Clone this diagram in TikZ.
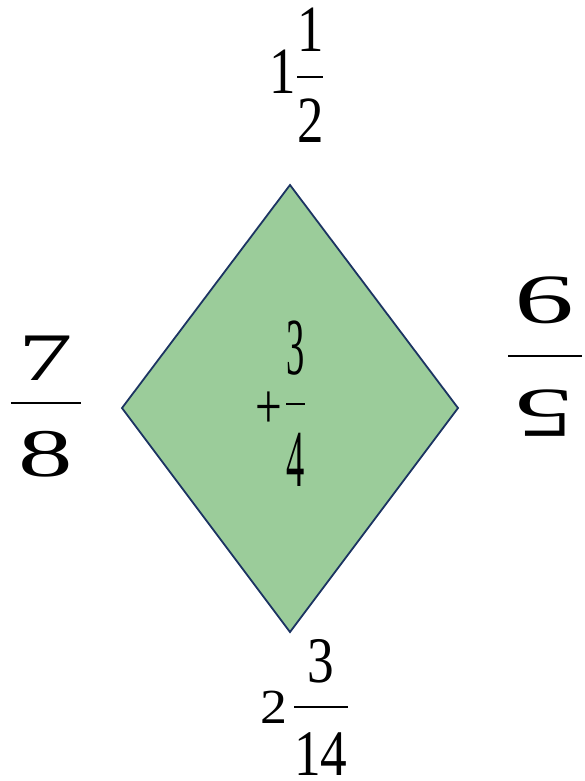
\RequirePackage{fix-cm}
\documentclass[tikz,border=0pt]{standalone}
\usepackage{amsmath}
\usepackage{graphicx}
\usepackage{fontspec}
\setmainfont{Liberation Serif}
\usepackage{tikz}
\usetikzlibrary{positioning}
\usepackage{xcolor}
\definecolor{rhombfill}{RGB}{155,204,154}
\definecolor{rhombline}{RGB}{28,52,98}
\tikzset{fraclabel/.style={inner sep=0pt, outer sep=0pt, anchor=base}}
% fraction with a firm bar; #3 and #4 nudge numerator and denominator
\newcommand{\shiftfrac}[4]{\genfrac{}{}{1.8pt}{0}{\raisebox{#3}{#1}}{\raisebox{#4}[\height][0pt]{#2}}}

\begin{document}
\begin{tikzpicture}[x=1pt,y=-1pt]
  \useasboundingbox (0,0) rectangle (584,781);
  % the green rhombus
  \draw[rhombline, line width=1.8pt, line join=miter, fill=rhombfill]
    (290,185) -- (458,408) -- (290,632) -- (122,408) -- cycle;
  % fractions round it
  \node[fraclabel, font=\fontsize{66}{66}\selectfont] (Ftop) at (297,93.5)
    {\scalebox{0.8}[1]{1$\shiftfrac{1}{2}{-3pt}{-4pt}$}};
  \node[fraclabel, font=\fontsize{68}{68}\selectfont] (Fleft) at (46,420)
    {\scalebox{1.6}[1]{$\shiftfrac{\hspace{5pt}7\hspace{5pt}}{\hspace{5pt}8\hspace{5pt}}{-6pt}{-9.5pt}$}};
  \node[fraclabel, rotate=180, font=\fontsize{70}{70}\selectfont] (Fright) at (545,338.5)
    {\scalebox{1.7}[1]{$\shiftfrac{\hspace{4pt}5\hspace{4pt}}{\hspace{4pt}9\hspace{4pt}}{5pt}{-13pt}$}};
  \node[fraclabel, font=\fontsize{65}{65}\selectfont] (Fbot) at (304.5,723)
    {\scalebox{1.1}[1]{\fontsize{49}{49}\selectfont 2}\hspace{6pt}%
     \scalebox{0.82}[1]{$\shiftfrac{3}{14}{-3pt}{-8pt}$}};
  % the sum in the middle
  \node[fraclabel, font=\fontsize{81}{81}\selectfont] (Fmid) at (280.5,424)
    {\scalebox{0.45}[1]{\raisebox{-4pt}{\scalebox{1.3}[0.8]{+}}\hspace{7pt}$\shiftfrac{3}{4}{-5.5pt}{-7pt}$}};
\end{tikzpicture}
\end{document}
